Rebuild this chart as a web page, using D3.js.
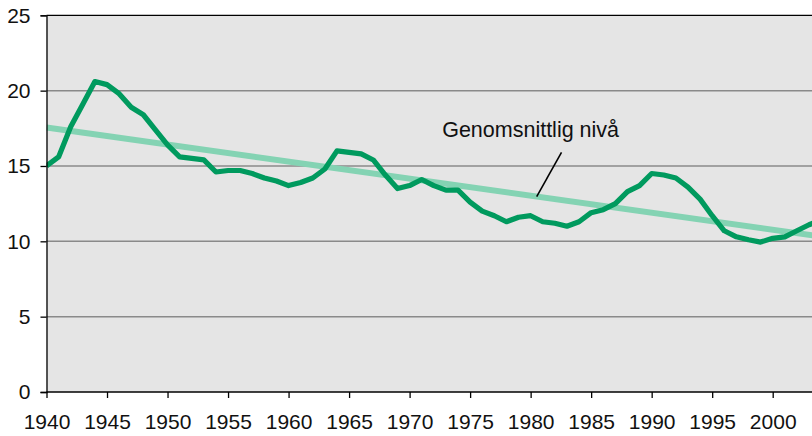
<!DOCTYPE html>
<html>
<head>
<meta charset="utf-8">
<script src="https://cdn.jsdelivr.net/npm/d3@7"></script>
<style>
    body { margin: 0; background: #fff; }
    svg text { font-family: "Liberation Sans", Arial, sans-serif; fill: #111; }
</style>
</head>
<body>
<svg id="chart" width="812" height="436"></svg>
<script>
// yearly values
var years = d3.range(1940, 2005);
var values = [
    15.0, 15.6, 17.6, 19.1, 20.6, 20.4, 19.8, 18.9, 18.4, 17.4,
    16.4, 15.6, 15.5, 15.4, 14.6, 14.7, 14.7, 14.5, 14.2, 14.0,
    13.7, 13.9, 14.2, 14.8, 16.0, 15.9, 15.8, 15.4, 14.4, 13.5,
    13.7, 14.1, 13.7, 13.4, 13.4, 12.6, 12.0, 11.7, 11.3, 11.6,
    11.7, 11.3, 11.2, 11.0, 11.3, 11.9, 12.1, 12.5, 13.3, 13.7,
    14.5, 14.4, 14.2, 13.6, 12.8, 11.7, 10.7, 10.3, 10.1, 9.95,
    10.2, 10.3, 10.7, 11.1, 11.4
];
// average level (straight trend)
var trendYears = [1940, 2005];
var trendValues = [17.55, 10.2];
var yTicks = [0, 5, 10, 15, 20, 25];
var xTicks = d3.range(1940, 2001, 5);
var annotationText = 'Genomsnittlig nivå';

var svg = d3.select('#chart');
var plotLeft = 46.5, plotTop = 15.3, plotBottom = 392, plotRight = 812;

var x = d3.scaleLinear().domain([1940, 2000]).range([plotLeft, 772.7]);
var y = d3.scaleLinear().domain([0, 25]).range([plotBottom, plotTop]);

svg.append('defs').append('clipPath')
    .attr('id', 'plotClip')
    .append('rect')
    .attr('x', plotLeft).attr('y', plotTop - 1)
    .attr('width', plotRight - plotLeft).attr('height', plotBottom - plotTop + 1);

svg.append('rect')
    .attr('x', plotLeft).attr('y', plotTop)
    .attr('width', plotRight - plotLeft).attr('height', plotBottom - plotTop)
    .attr('fill', '#e5e5e5');

// grid
svg.append('g')
    .selectAll('line')
    .data(yTicks.filter(function (d) { return d > 0 && d < 25; }))
    .enter().append('line')
    .attr('x1', plotLeft).attr('x2', plotRight)
    .attr('y1', function (d) { return y(d); })
    .attr('y2', function (d) { return y(d); })
    .attr('stroke', '#8a8a8a')
    .attr('stroke-width', 1.5);

var plot = svg.append('g').attr('clip-path', 'url(#plotClip)');

plot.append('path')
    .datum(trendYears.map(function (d, i) { return [d, trendValues[i]]; }))
    .attr('fill', 'none')
    .attr('stroke', '#84d3b3')
    .attr('stroke-width', 6)
    .attr('d', d3.line()
        .x(function (d) { return x(d[0]); })
        .y(function (d) { return y(d[1]); }));

plot.append('path')
    .datum(years.map(function (d, i) { return [d, values[i]]; }))
    .attr('fill', 'none')
    .attr('stroke', '#009a5e')
    .attr('stroke-width', 5.2)
    .attr('stroke-linejoin', 'round')
    .attr('d', d3.line()
        .x(function (d) { return x(d[0]); })
        .y(function (d) { return y(d[1]); }));

// frame: top border, left and bottom axes
svg.append('line')
    .attr('x1', plotLeft).attr('x2', plotRight)
    .attr('y1', plotTop).attr('y2', plotTop)
    .attr('stroke', '#000').attr('stroke-width', 1.3);

var yAxis = svg.append('g')
    .attr('transform', 'translate(' + plotLeft + ',0)')
    .call(d3.axisLeft(y).tickValues(yTicks).tickSize(6).tickPadding(10));

var xAxis = svg.append('g')
    .attr('transform', 'translate(0,' + plotBottom + ')')
    .call(d3.axisBottom(x).tickValues(xTicks).tickSize(6).tickPadding(16)
        .tickFormat(d3.format('d')));
xAxis.select('.domain').attr('d', 'M' + plotLeft + ',0H' + plotRight);

[yAxis, xAxis].forEach(function (ax) {
    ax.select('.domain').attr('stroke', '#000').attr('stroke-width', 1.3);
    ax.selectAll('.tick line').attr('stroke', '#000').attr('stroke-width', 1.3);
    ax.selectAll('.tick text')
        .style('font-size', '21px')
        .style('font-family', '"Liberation Sans", Arial, sans-serif')
        .attr('fill', '#111');
});

// annotation
var labelYear = 1980.0, labelValue = 16.9;
var leaderYear = 1980.5;
var trendAt = d3.scaleLinear().domain(trendYears).range(trendValues);
svg.append('line')
    .attr('x1', x(1982.55)).attr('y1', y(15.9))
    .attr('x2', x(leaderYear)).attr('y2', y(trendAt(leaderYear)))
    .attr('stroke', '#000').attr('stroke-width', 1.6);
svg.append('text')
    .attr('x', x(labelYear)).attr('y', y(labelValue))
    .attr('text-anchor', 'middle')
    .style('font-size', '21.5px')
    .text(annotationText);
</script>
</body>
</html>
